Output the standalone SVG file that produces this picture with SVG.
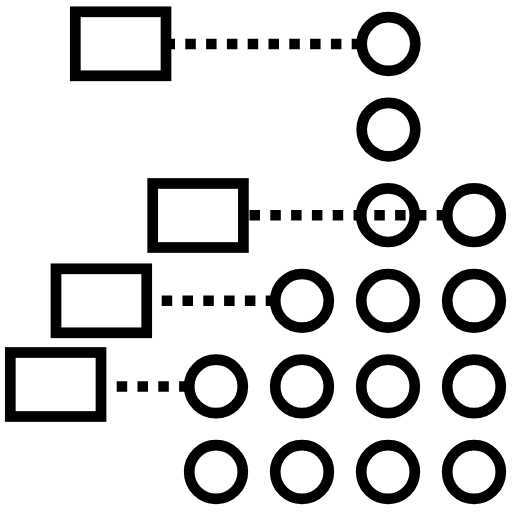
<svg xmlns="http://www.w3.org/2000/svg" width="512" height="512" viewBox="0 0 512 512">
<style>
.n{fill:#fff;stroke:#000;stroke-width:10.7}
.c{fill:none;stroke:#000;stroke-width:10.7}
.d{fill:none;stroke:#000;stroke-width:10.5;stroke-dasharray:10.5 10.3}
</style>
<rect width="512" height="512" fill="#fff"/>
<g id="connectors">
<line class="d" x1="164.5" y1="44" x2="362" y2="44"/>
<line class="d" x1="249.5" y1="215.2" x2="447.5" y2="215.2"/>
<line class="d" x1="161.7" y1="300.8" x2="276" y2="300.8"/>
<line class="d" x1="116.7" y1="386.6" x2="190" y2="386.6"/>
</g>
<g id="rect1"><rect class="n" x="75.3" y="11.8" width="90.7" height="64"/></g>
<g id="rect2"><rect class="n" x="152.7" y="183.5" width="90.7" height="64"/></g>
<g id="rect3"><rect class="n" x="56" y="268.8" width="90.7" height="64"/></g>
<g id="rect4"><rect class="n" x="10.3" y="352.5" width="90.7" height="64"/></g>
<g id="c1"><circle class="c" cx="388.5" cy="44" r="26.8"/></g>
<g id="c2"><circle class="c" cx="388.5" cy="129.6" r="26.8"/></g>
<g id="c3"><circle class="c" cx="388" cy="215.2" r="26.8"/></g>
<g id="c4"><circle class="c" cx="474" cy="215.2" r="26.8"/></g>
<g id="c5"><circle class="c" cx="302" cy="300.8" r="26.8"/></g>
<g id="c6"><circle class="c" cx="388" cy="300.8" r="26.8"/></g>
<g id="c7"><circle class="c" cx="474" cy="300.8" r="26.8"/></g>
<g id="c8"><circle class="c" cx="216" cy="386.4" r="26.8"/></g>
<g id="c9"><circle class="c" cx="302" cy="386.4" r="26.8"/></g>
<g id="c10"><circle class="c" cx="388" cy="386.4" r="26.8"/></g>
<g id="c11"><circle class="c" cx="474" cy="386.4" r="26.8"/></g>
<g id="c12"><circle class="c" cx="216" cy="472" r="26.8"/></g>
<g id="c13"><circle class="c" cx="302" cy="472" r="26.8"/></g>
<g id="c14"><circle class="c" cx="388" cy="472" r="26.8"/></g>
<g id="c15"><circle class="c" cx="474" cy="472" r="26.8"/></g>
</svg>
